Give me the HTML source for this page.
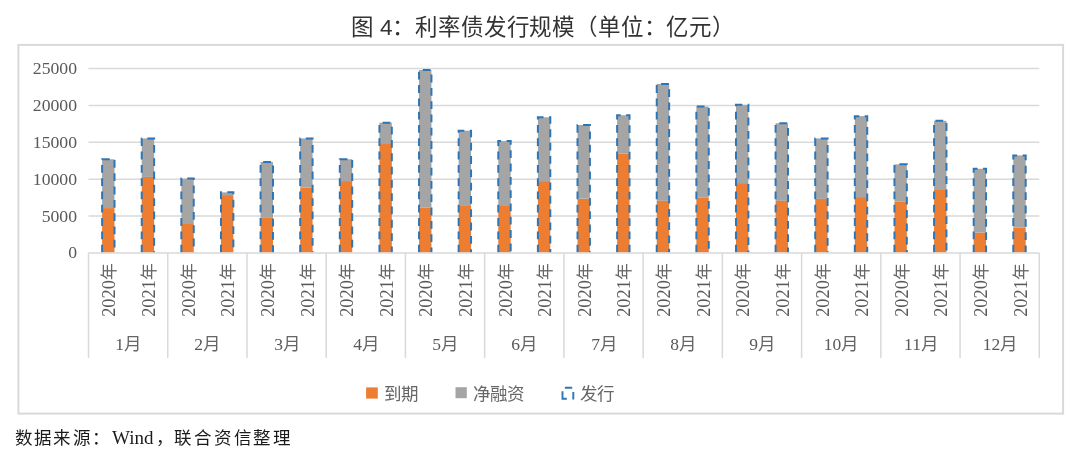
<!DOCTYPE html>
<html lang="zh-CN"><head><meta charset="utf-8"><style>
html,body{margin:0;padding:0;background:#fff;}
body{width:1080px;height:465px;position:relative;overflow:hidden;}
div{will-change:transform;}
.t{position:absolute;left:3px;width:1080px;top:14px;text-align:center;font-family:"Liberation Sans",sans-serif;font-size:22.5px;line-height:28px;color:#333333;letter-spacing:-0.17px;}
svg{position:absolute;left:0;top:0;}
.yl{position:absolute;left:0;width:77px;text-align:right;font-family:"Liberation Serif",serif;font-size:17.7px;line-height:20px;color:#595959;}
.xl{position:absolute;top:280px;width:80px;height:20px;text-align:center;font-family:"Liberation Serif",serif;font-size:18.3px;line-height:20px;color:#595959;transform:rotate(-90deg);}
.ml{position:absolute;top:333.5px;width:60px;text-align:center;font-family:"Liberation Serif",serif;font-size:17.5px;line-height:20px;color:#595959;}
.lg{position:absolute;top:383.5px;font-family:"Liberation Serif",serif;font-size:17.5px;line-height:20px;color:#666666;}
.c{color:#666666;}
.xl .c{font-size:16.8px;}
.ft{position:absolute;left:15px;top:427px;font-family:"Liberation Serif",serif;font-size:17.5px;line-height:22px;color:#1a1a1a;letter-spacing:2.2px;}
</style></head><body>
<div class="t">图 4：利率债发行规模（单位：亿元）</div>
<svg width="1080" height="465" viewBox="0 0 1080 465">
<line x1="88.5" y1="216.02" x2="1039.3" y2="216.02" stroke="#D9D9D9" stroke-width="1.5"/>
<line x1="88.5" y1="179.14" x2="1039.3" y2="179.14" stroke="#D9D9D9" stroke-width="1.5"/>
<line x1="88.5" y1="142.26" x2="1039.3" y2="142.26" stroke="#D9D9D9" stroke-width="1.5"/>
<line x1="88.5" y1="105.38" x2="1039.3" y2="105.38" stroke="#D9D9D9" stroke-width="1.5"/>
<line x1="88.5" y1="68.50" x2="1039.3" y2="68.50" stroke="#D9D9D9" stroke-width="1.5"/>
<rect x="102.11" y="208.06" width="12.4" height="44.44" fill="#ED7D31"/>
<rect x="102.11" y="159.25" width="12.4" height="48.81" fill="#A5A5A5"/>
<rect x="141.73" y="176.91" width="12.4" height="75.59" fill="#ED7D31"/>
<rect x="141.73" y="138.42" width="12.4" height="38.49" fill="#A5A5A5"/>
<rect x="181.34" y="223.13" width="12.4" height="29.37" fill="#ED7D31"/>
<rect x="181.34" y="178.61" width="12.4" height="44.53" fill="#A5A5A5"/>
<rect x="220.96" y="195.09" width="12.4" height="57.41" fill="#ED7D31"/>
<rect x="220.96" y="192.37" width="12.4" height="2.72" fill="#A5A5A5"/>
<rect x="260.57" y="217.25" width="12.4" height="35.25" fill="#ED7D31"/>
<rect x="260.57" y="161.97" width="12.4" height="55.27" fill="#A5A5A5"/>
<rect x="300.19" y="187.58" width="12.4" height="64.92" fill="#ED7D31"/>
<rect x="300.19" y="138.42" width="12.4" height="49.16" fill="#A5A5A5"/>
<rect x="339.81" y="181.09" width="12.4" height="71.41" fill="#ED7D31"/>
<rect x="339.81" y="159.25" width="12.4" height="21.84" fill="#A5A5A5"/>
<rect x="379.43" y="143.15" width="12.4" height="109.35" fill="#ED7D31"/>
<rect x="379.43" y="122.67" width="12.4" height="20.48" fill="#A5A5A5"/>
<rect x="419.04" y="207.46" width="12.4" height="45.04" fill="#ED7D31"/>
<rect x="419.04" y="70.00" width="12.4" height="137.46" fill="#A5A5A5"/>
<rect x="458.66" y="205.96" width="12.4" height="46.54" fill="#ED7D31"/>
<rect x="458.66" y="130.69" width="12.4" height="75.27" fill="#A5A5A5"/>
<rect x="498.28" y="205.96" width="12.4" height="46.54" fill="#ED7D31"/>
<rect x="498.28" y="141.11" width="12.4" height="64.86" fill="#A5A5A5"/>
<rect x="537.89" y="181.09" width="12.4" height="71.41" fill="#ED7D31"/>
<rect x="537.89" y="117.33" width="12.4" height="63.76" fill="#A5A5A5"/>
<rect x="577.51" y="198.57" width="12.4" height="53.93" fill="#ED7D31"/>
<rect x="577.51" y="125.05" width="12.4" height="73.52" fill="#A5A5A5"/>
<rect x="617.12" y="153.54" width="12.4" height="98.96" fill="#ED7D31"/>
<rect x="617.12" y="115.23" width="12.4" height="38.31" fill="#A5A5A5"/>
<rect x="656.74" y="200.87" width="12.4" height="51.63" fill="#ED7D31"/>
<rect x="656.74" y="83.96" width="12.4" height="116.91" fill="#A5A5A5"/>
<rect x="696.36" y="197.37" width="12.4" height="55.13" fill="#ED7D31"/>
<rect x="696.36" y="106.60" width="12.4" height="90.77" fill="#A5A5A5"/>
<rect x="735.97" y="183.10" width="12.4" height="69.40" fill="#ED7D31"/>
<rect x="735.97" y="104.80" width="12.4" height="78.30" fill="#A5A5A5"/>
<rect x="775.59" y="200.87" width="12.4" height="51.63" fill="#ED7D31"/>
<rect x="775.59" y="123.25" width="12.4" height="77.62" fill="#A5A5A5"/>
<rect x="815.21" y="198.88" width="12.4" height="53.62" fill="#ED7D31"/>
<rect x="815.21" y="138.39" width="12.4" height="60.48" fill="#A5A5A5"/>
<rect x="854.83" y="197.08" width="12.4" height="55.42" fill="#ED7D31"/>
<rect x="854.83" y="116.13" width="12.4" height="80.95" fill="#A5A5A5"/>
<rect x="894.44" y="201.77" width="12.4" height="50.73" fill="#ED7D31"/>
<rect x="894.44" y="164.36" width="12.4" height="37.40" fill="#A5A5A5"/>
<rect x="934.06" y="189.98" width="12.4" height="62.52" fill="#ED7D31"/>
<rect x="934.06" y="120.84" width="12.4" height="69.14" fill="#A5A5A5"/>
<rect x="973.67" y="232.63" width="12.4" height="19.87" fill="#ED7D31"/>
<rect x="973.67" y="168.77" width="12.4" height="63.86" fill="#A5A5A5"/>
<rect x="1013.29" y="227.53" width="12.4" height="24.97" fill="#ED7D31"/>
<rect x="1013.29" y="155.44" width="12.4" height="72.10" fill="#A5A5A5"/>
<path d="M102.11 252.5V159.25H114.51V252.5M141.73 252.5V138.42H154.13V252.5M181.34 252.5V178.61H193.74V252.5M220.96 252.5V192.37H233.36V252.5M260.57 252.5V161.97H272.97V252.5M300.19 252.5V138.42H312.59V252.5M339.81 252.5V159.25H352.21V252.5M379.43 252.5V122.67H391.82V252.5M419.04 252.5V70.00H431.44V252.5M458.66 252.5V130.69H471.06V252.5M498.28 252.5V141.11H510.68V252.5M537.89 252.5V117.33H550.29V252.5M577.51 252.5V125.05H589.91V252.5M617.12 252.5V115.23H629.52V252.5M656.74 252.5V83.96H669.14V252.5M696.36 252.5V106.60H708.76V252.5M735.97 252.5V104.80H748.37V252.5M775.59 252.5V123.25H787.99V252.5M815.21 252.5V138.39H827.61V252.5M854.83 252.5V116.13H867.23V252.5M894.44 252.5V164.36H906.84V252.5M934.06 252.5V120.84H946.46V252.5M973.67 252.5V168.77H986.07V252.5M1013.29 252.5V155.44H1025.69V252.5" fill="none" stroke="#2E75B6" stroke-width="2" stroke-dasharray="7.8 5.5"/>
<line x1="88.5" y1="252.9" x2="1039.3" y2="252.9" stroke="#D9D9D9" stroke-width="1.5"/>
<line x1="88.50" y1="252.9" x2="88.50" y2="358" stroke="#D9D9D9" stroke-width="1.5"/>
<line x1="167.73" y1="252.9" x2="167.73" y2="358" stroke="#D9D9D9" stroke-width="1.5"/>
<line x1="246.97" y1="252.9" x2="246.97" y2="358" stroke="#D9D9D9" stroke-width="1.5"/>
<line x1="326.20" y1="252.9" x2="326.20" y2="358" stroke="#D9D9D9" stroke-width="1.5"/>
<line x1="405.43" y1="252.9" x2="405.43" y2="358" stroke="#D9D9D9" stroke-width="1.5"/>
<line x1="484.67" y1="252.9" x2="484.67" y2="358" stroke="#D9D9D9" stroke-width="1.5"/>
<line x1="563.90" y1="252.9" x2="563.90" y2="358" stroke="#D9D9D9" stroke-width="1.5"/>
<line x1="643.13" y1="252.9" x2="643.13" y2="358" stroke="#D9D9D9" stroke-width="1.5"/>
<line x1="722.37" y1="252.9" x2="722.37" y2="358" stroke="#D9D9D9" stroke-width="1.5"/>
<line x1="801.60" y1="252.9" x2="801.60" y2="358" stroke="#D9D9D9" stroke-width="1.5"/>
<line x1="880.83" y1="252.9" x2="880.83" y2="358" stroke="#D9D9D9" stroke-width="1.5"/>
<line x1="960.07" y1="252.9" x2="960.07" y2="358" stroke="#D9D9D9" stroke-width="1.5"/>
<line x1="1039.30" y1="252.9" x2="1039.30" y2="358" stroke="#D9D9D9" stroke-width="1.5"/>
<rect x="18.4" y="44.9" width="1044.7" height="368.7" fill="none" stroke="#D9D9D9" stroke-width="2"/>
<rect x="366.1" y="387.4" width="11.7" height="11.2" fill="#ED7D31"/>
<rect x="455.5" y="387.2" width="11.3" height="11" fill="#A5A5A5"/>
<path d="M564.9 387.8H572.2M562.5 391.3V398.8H566.8M573.3 392.1V399.4" fill="none" stroke="#2E75B6" stroke-width="1.9"/>
</svg>
<div class="yl" style="top:242.3px">0</div>
<div class="yl" style="top:205.5px">5000</div>
<div class="yl" style="top:168.7px">10000</div>
<div class="yl" style="top:131.9px">15000</div>
<div class="yl" style="top:95.1px">20000</div>
<div class="yl" style="top:58.3px">25000</div>
<div class="xl" style="left:69.4px">2020<span class="c">年</span></div>
<div class="xl" style="left:109.0px">2021<span class="c">年</span></div>
<div class="xl" style="left:148.6px">2020<span class="c">年</span></div>
<div class="xl" style="left:188.3px">2021<span class="c">年</span></div>
<div class="xl" style="left:227.9px">2020<span class="c">年</span></div>
<div class="xl" style="left:267.5px">2021<span class="c">年</span></div>
<div class="xl" style="left:307.1px">2020<span class="c">年</span></div>
<div class="xl" style="left:346.7px">2021<span class="c">年</span></div>
<div class="xl" style="left:386.3px">2020<span class="c">年</span></div>
<div class="xl" style="left:426.0px">2021<span class="c">年</span></div>
<div class="xl" style="left:465.6px">2020<span class="c">年</span></div>
<div class="xl" style="left:505.2px">2021<span class="c">年</span></div>
<div class="xl" style="left:544.8px">2020<span class="c">年</span></div>
<div class="xl" style="left:584.4px">2021<span class="c">年</span></div>
<div class="xl" style="left:624.0px">2020<span class="c">年</span></div>
<div class="xl" style="left:663.7px">2021<span class="c">年</span></div>
<div class="xl" style="left:703.3px">2020<span class="c">年</span></div>
<div class="xl" style="left:742.9px">2021<span class="c">年</span></div>
<div class="xl" style="left:782.5px">2020<span class="c">年</span></div>
<div class="xl" style="left:822.1px">2021<span class="c">年</span></div>
<div class="xl" style="left:861.7px">2020<span class="c">年</span></div>
<div class="xl" style="left:901.4px">2021<span class="c">年</span></div>
<div class="xl" style="left:941.0px">2020<span class="c">年</span></div>
<div class="xl" style="left:980.6px">2021<span class="c">年</span></div>
<div class="ml" style="left:98.1px">1<span class="c">月</span></div>
<div class="ml" style="left:177.4px">2<span class="c">月</span></div>
<div class="ml" style="left:256.6px">3<span class="c">月</span></div>
<div class="ml" style="left:335.8px">4<span class="c">月</span></div>
<div class="ml" style="left:415.1px">5<span class="c">月</span></div>
<div class="ml" style="left:494.3px">6<span class="c">月</span></div>
<div class="ml" style="left:573.5px">7<span class="c">月</span></div>
<div class="ml" style="left:652.8px">8<span class="c">月</span></div>
<div class="ml" style="left:732.0px">9<span class="c">月</span></div>
<div class="ml" style="left:811.2px">10<span class="c">月</span></div>
<div class="ml" style="left:890.5px">11<span class="c">月</span></div>
<div class="ml" style="left:969.7px">12<span class="c">月</span></div>
<div class="lg" style="left:384px">到期</div>
<div class="lg" style="left:473px">净融资</div>
<div class="lg" style="left:580px">发行</div>
<div class="ft" style="left:15px;letter-spacing:2.2px">数据来源：</div>
<div class="ft" style="left:112px;letter-spacing:0;font-size:19px">Wind</div>
<div class="ft" style="left:155.5px">，</div>
<div class="ft" style="left:173.5px;letter-spacing:2.85px">联合资信整理</div>
</body></html>
